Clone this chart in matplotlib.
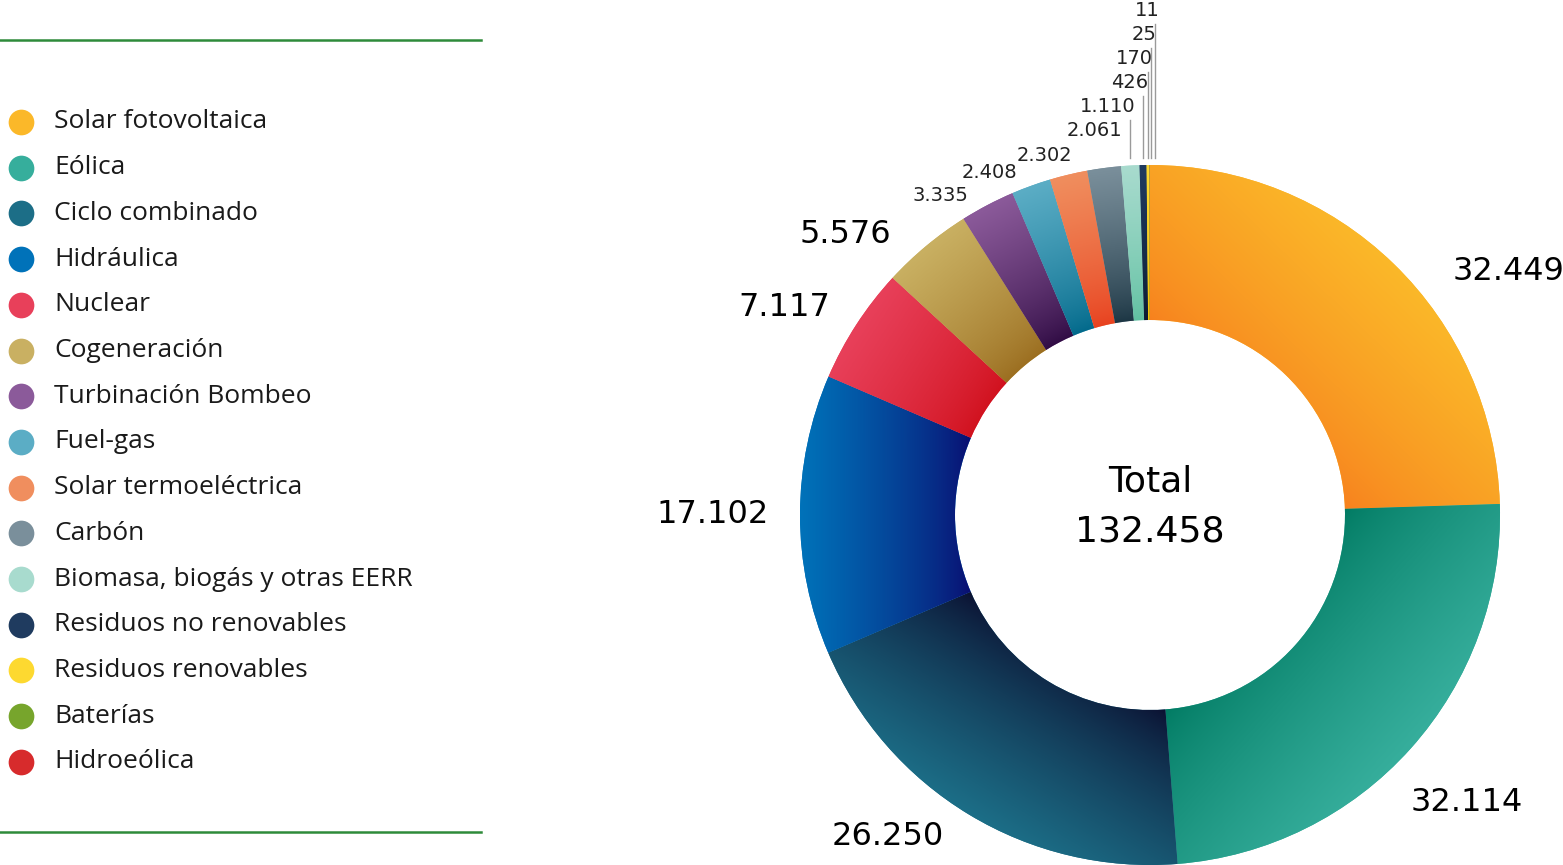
import numpy as np
import matplotlib
matplotlib.use("Agg")
import matplotlib.pyplot as plt
from matplotlib.colors import LinearSegmentedColormap

categorias = ['Solar fotovoltaica', 'Eólica', 'Ciclo combinado', 'Hidráulica', 'Nuclear',
              'Cogeneración', 'Turbinación Bombeo', 'Fuel-gas', 'Solar termoeléctrica',
              'Carbón', 'Biomasa, biogás y otras EERR', 'Residuos no renovables',
              'Residuos renovables', 'Baterías', 'Hidroeólica']
valores = [32449, 32114, 26250, 17102, 7117, 5576, 3335, 2408, 2302, 2061, 1110, 426, 170, 25, 11]
total = 132458

colores = ['#FBB829', '#36AE9C', '#1C6E87', '#0072B9', '#E8405A', '#C9B062', '#8B5A9A',
           '#5BADC5', '#F08E5E', '#7A8F9B', '#A8DBCE', '#1F3B5F', '#FDD930', '#77A52C', '#D72B2C']
# tono oscuro hacia el que va el degradado de cada porcion
colores_osc = ['#F7801E', '#007A62', '#0B0F30', '#0A0C70', '#D0101C', '#9A6C1E', '#2E0A42',
               '#00688A', '#E8401E', '#1A3442', '#5EC0A0', '#0A1A30', '#F5C000', '#4E7A10', '#A01010']


def fmt(v):
    return f'{v:,}'.replace(',', '.')


W, H = 1563, 865
fig = plt.figure(figsize=(W / 100, H / 100), dpi=100)
ax = fig.add_axes([0, 0, 1, 1])

cx, cy = 1150, 350
R, r_in = 350, 195

wedges, _ = ax.pie(valores, colors=colores, startangle=90, counterclock=False,
                   radius=R, center=(cx, cy),
                   wedgeprops=dict(width=R - r_in, linewidth=0))

# degradado dentro de cada porcion (claro fuera, oscuro dentro)
n = 500
X, Y = np.meshgrid(np.linspace(cx - R, cx + R, n), np.linspace(cy - R, cy + R, n))
for w, c1, c2 in zip(wedges, colores, colores_osc):
    mid = np.deg2rad((w.theta1 + w.theta2) / 2)
    half = np.deg2rad(abs(w.theta2 - w.theta1) / 2)
    proj = (X - cx) * np.cos(mid) + (Y - cy) * np.sin(mid)
    lo = r_in * np.cos(min(half, np.pi / 2))
    t = np.clip((proj - lo) / (R - lo), 0, 1) ** 0.75
    cmap = LinearSegmentedColormap.from_list('g', [c2, c1])
    im = ax.imshow(t, cmap=cmap, vmin=0, vmax=1, extent=(cx - R, cx + R, cy - R, cy + R),
                   origin='lower', interpolation='bilinear', zorder=w.get_zorder() + 0.1)
    im.set_clip_path(w)

ang = np.deg2rad([(w.theta1 + w.theta2) / 2 for w in wedges])
# pequeno giro (grados) de algunas etiquetas para que no se pisen
desplaz = {0: -7, 1: -6, 2: -1.5, 5: 3, 6: 2, 7: 1.3, 8: -1.2}

# etiquetas grandes
for i in range(6):
    a = ang[i] + np.deg2rad(desplaz.get(i, 0))
    r = R * (1.11 if np.cos(a) > 0 else 1.09)
    x, y = cx + r * np.cos(a), cy + r * np.sin(a)
    ax.text(x, y, fmt(valores[i]), fontsize=23, ha='left' if np.cos(a) > 0 else 'right',
            va='center', color='black')

# etiquetas medianas
for i in range(6, 9):
    a = ang[i] + np.deg2rad(desplaz.get(i, 0))
    r = R * 1.05
    x, y = cx + r * np.cos(a), cy + r * np.sin(a)
    ax.text(x, y, fmt(valores[i]), fontsize=14, ha='right', va='center', color='#222222')

# etiquetas pequenas apiladas con lineas guia
base = cy + R + 35
paso = 24
prev_x = None
for k, i in enumerate(range(9, 15)):
    x = cx + R * np.cos(ang[i])
    if prev_x is not None:
        x = max(x, prev_x + 3.5)
    prev_x = x
    y = base + paso * k
    if k > 0:
        ax.plot([x, x], [cy + R + 7, y - 14], color='#9a9a9a', lw=1, zorder=1)
        ax.text(x + 5, y, fmt(valores[i]), fontsize=14, ha='right', va='center', color='#222222')
    else:
        ax.text(x + 18, y, fmt(valores[i]), fontsize=14, ha='right', va='center', color='#222222')

ax.text(cx, cy + 34, 'Total', fontsize=26, ha='center', va='center')
ax.text(cx, cy - 17, fmt(total), fontsize=26, ha='center', va='center')

# leyenda
for j, (nombre, col) in enumerate(zip(categorias, colores)):
    y = H - (122 + j * 45.7)
    ax.plot(21, y, 'o', ms=18.5, color=col, mec='none')
    ax.text(54, y, nombre, fontsize=19, family='Open Sans', ha='left', va='center',
            color='#1a1a1a')

ax.plot([0, 481], [H - 40, H - 40], color='#2E8B3A', lw=1.8)
ax.plot([0, 481], [H - 832, H - 832], color='#2E8B3A', lw=1.8)

ax.set_xlim(0, W)
ax.set_ylim(0, H)
ax.set_aspect('auto')
ax.axis('off')

fig.savefig('out.png', dpi=100)
